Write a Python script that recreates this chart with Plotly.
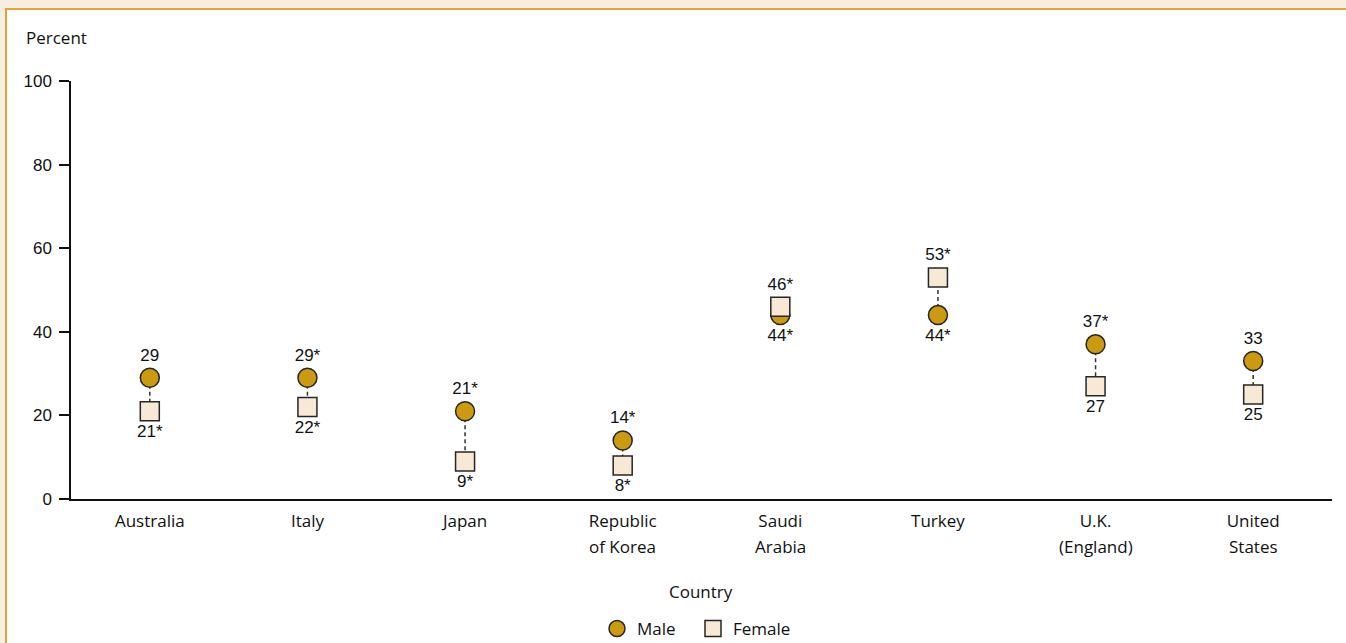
import plotly.graph_objects as go

countries = ["Australia", "Italy", "Japan", "Republic of Korea", "Saudi Arabia",
             "Turkey", "U.K. (England)", "United States"]
label_line1 = ["Australia", "Italy", "Japan", "Republic", "Saudi", "Turkey", "U.K.", "United"]
label_line2 = ["", "", "", "of Korea", "Arabia", "", "(England)", "States"]
male = [29, 29, 21, 14, 44, 44, 37, 33]
female = [21, 22, 9, 8, 46, 53, 27, 25]
male_labels = ["29", "29*", "21*", "14*", "44*", "44*", "37*", "33"]
female_labels = ["21*", "22*", "9*", "8*", "46*", "53*", "27", "25"]
yticks = [0, 20, 40, 60, 80, 100]

GOLD = "#CC9A10"
CREAM = "#F7E9D5"
EDGE = "#262626"
HUM = "Open Sans, Noto Sans, sans-serif"
ARIAL = "Liberation Sans, Arial, sans-serif"

W, H = 1346, 643
ML, MR, MT, MB = 71, 14, 81, 144
PW, PH = W - ML - MR, H - MT - MB


def px_x(p):
    return (p - ML) / PW


def px_y(p):
    return (H - MB - p) / PH


fig = go.Figure()

# dashed connectors
cx, cy = [], []
for c, m, f in zip(countries, male, female):
    cx += [c, c, None]
    cy += [m, f, None]
fig.add_trace(go.Scatter(x=cx, y=cy, mode="lines", showlegend=False, hoverinfo="skip",
                         line=dict(color="#333333", width=1.5, dash="4px,3px")))

male_pos = ["top center" if m >= f else "bottom center" for m, f in zip(male, female)]
female_pos = ["top center" if f > m else "bottom center" for m, f in zip(male, female)]

fig.add_trace(go.Scatter(x=countries, y=male, mode="markers+text", name="Male",
                         legend="legend",
                         text=male_labels, textposition=male_pos,
                         textfont=dict(family=ARIAL, size=17, color="#111"),
                         marker=dict(symbol="circle", size=19, color=GOLD,
                                     line=dict(color=EDGE, width=1.5))))
fig.add_trace(go.Scatter(x=countries, y=female, mode="markers+text", name="Female",
                         legend="legend2",
                         text=female_labels, textposition=female_pos,
                         textfont=dict(family=ARIAL, size=17, color="#111"),
                         marker=dict(symbol="square", size=19, color=CREAM,
                                     line=dict(color=EDGE, width=1.5))))

# background panel with orange border
fig.add_shape(type="rect", xref="paper", yref="paper",
              x0=px_x(6), x1=px_x(W + 40), y0=px_y(H + 40), y1=px_y(9),
              fillcolor="white", line=dict(color="#E3A33A", width=2), layer="below")

fig.add_annotation(text="Percent", xref="paper", yref="paper",
                   x=px_x(24), y=px_y(38), xanchor="left", yanchor="middle",
                   showarrow=False, font=dict(family=HUM, size=17, color="#111"))
fig.add_annotation(text="Country", xref="paper", yref="paper",
                   x=px_x(701), y=px_y(591), xanchor="center", yanchor="middle",
                   showarrow=False, font=dict(family=HUM, size=17, color="#111"))

# second lines of category labels
for c, l2 in zip(countries, label_line2):
    if l2:
        fig.add_annotation(text=l2, xref="x", yref="paper", x=c, y=px_y(546),
                           xanchor="center", yanchor="middle", showarrow=False,
                           font=dict(family=HUM, size=17, color="#111"))

leg_common = dict(orientation="h", xanchor="left", y=px_y(629), yanchor="middle",
                  font=dict(family=HUM, size=17, color="#111"),
                  bgcolor="rgba(0,0,0,0)", itemwidth=30)

fig.update_layout(
    width=W, height=H,
    margin=dict(l=ML, r=MR, t=MT, b=MB, autoexpand=False),
    paper_bgcolor="#F6EFDF", plot_bgcolor="rgba(0,0,0,0)",
    font=dict(family=HUM, size=17, color="#111"),
    showlegend=True,
    legend=dict(x=px_x(597), **leg_common),
    legend2=dict(x=px_x(693), **leg_common),
    xaxis=dict(type="category", categoryorder="array", categoryarray=countries,
               tickvals=countries, ticktext=label_line1,
               range=[-0.5, 7.5], showline=True, linecolor="#111",
               linewidth=1.5, ticks="outside", ticklen=6, tickcolor="rgba(0,0,0,0)",
               showgrid=False, zeroline=False, tickfont=dict(family=HUM, size=17)),
    yaxis=dict(range=[0, 100], tickvals=yticks, showline=True, linecolor="#111",
               linewidth=1.5, ticks="outside", ticklen=10, tickcolor="#111", tickwidth=1.5,
               ticklabelstandoff=4,
               showgrid=False, zeroline=False, tickfont=dict(family=ARIAL, size=17)),
)

fig.write_html("out.html", config={"displayModeBar": False},
               post_script="document.body.style.margin='0';document.body.style.background='#F6EFDF';")
